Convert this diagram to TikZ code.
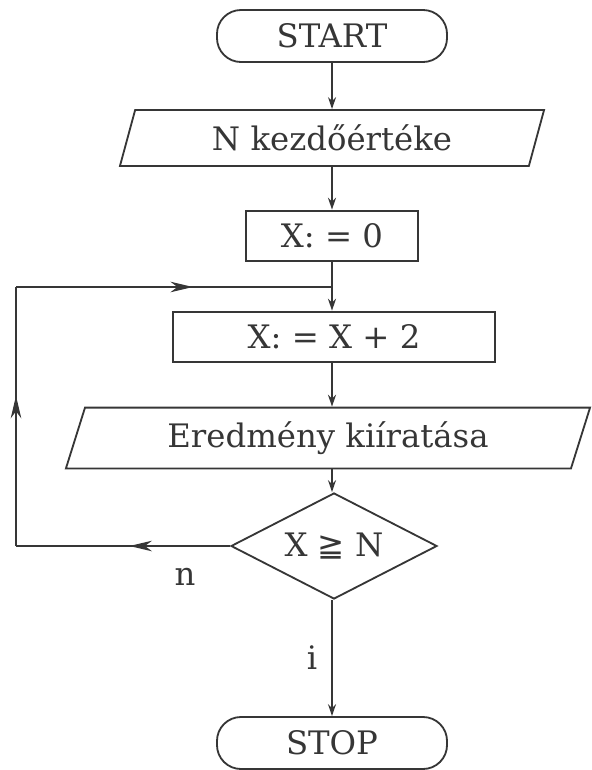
\documentclass[tikz,border=0pt]{standalone}
\usepackage{xcolor}
\usepackage{fontspec}
\setmainfont{DejaVu Serif}
\newfontfamily\relfont{DejaVu Sans}
\usetikzlibrary{arrows.meta,shapes.geometric,decorations.markings}
\definecolor{flowink}{HTML}{363636}

\begin{document}
\begin{tikzpicture}[
  x=0.025cm,
  y=-0.025cm,
  every node/.style={font=\fontsize{23}{28}\selectfont, text=flowink},
  terminal/.style={draw=flowink, line width=1.3pt, rounded corners=0.6cm,
                   minimum width=5.75cm, minimum height=1.3cm},
  process/.style={draw=flowink, line width=1.3pt, minimum height=1.27cm},
  io/.style={draw=flowink, line width=1.3pt, trapezium,
             trapezium left angle=60, trapezium right angle=120,
             trapezium stretches body, inner sep=0pt},
  decision/.style={draw=flowink, line width=1.3pt, diamond, aspect=2,
                   minimum width=5.15cm, minimum height=2.65cm, inner sep=0pt},
  line/.style={flowink, line width=1.3pt},
  flow/.style={line, -{Stealth[length=8.5pt, width=5.7pt]}},
  midarrow/.style={line, postaction=decorate,
    decoration={markings, mark=at position #1 with
      {\arrow{Stealth[length=16pt, width=7.5pt, inset=5pt]}}}}
]
  \useasboundingbox (0,0) rectangle (592,770);

  % ---- blocks, top to bottom ----
  \node[terminal] (start) at (332,36) {START};
  \node[io, minimum width=10.6cm, minimum height=1.4cm] (nval) at (332,138)
    {N kezdőértéke};
  \node[process, minimum width=4.28cm] (xzero) at (332,236) {X:\ =\ 0};
  \node[process, minimum width=8.05cm] (xtwo) at (334,337) {X:\ =\ X + 2};
  \node[io, minimum width=13.1cm, minimum height=1.52cm] (result) at (328,438)
    {Eredmény kiíratása};
  \node[decision] (test) at (334,546) {X {\relfont ≧} N};
  \node[terminal] (stop) at (332,743) {STOP};

  % ---- straight flow ----
  \draw[flow] (start) -- (nval);
  \draw[flow] (nval.south -| start) -- (xzero);
  \draw[flow] (xzero) -- (xzero |- xtwo.north);
  \draw[flow] (xtwo.south -| xzero) -- (xzero |- result.north);
  \draw[flow] (result.south -| xzero) -- (xzero |- test.north);
  \draw[flow] (test.south -| xzero) -- (stop);

  % ---- loop back (no branch) ----
  \coordinate (bl) at (16,546);
  \coordinate (tl) at (16,287);
  \coordinate (join) at (332,287);
  \draw[midarrow=0.47] (test.west) -- (bl);
  \draw[midarrow=0.58] (bl) -- (tl);
  \draw[midarrow=0.56] (tl) -- (join);

  % ---- branch labels ----
  \node (lbln) at (185,577) {n};
  \node (lbli) at (312,658) {i};
\end{tikzpicture}
\end{document}
